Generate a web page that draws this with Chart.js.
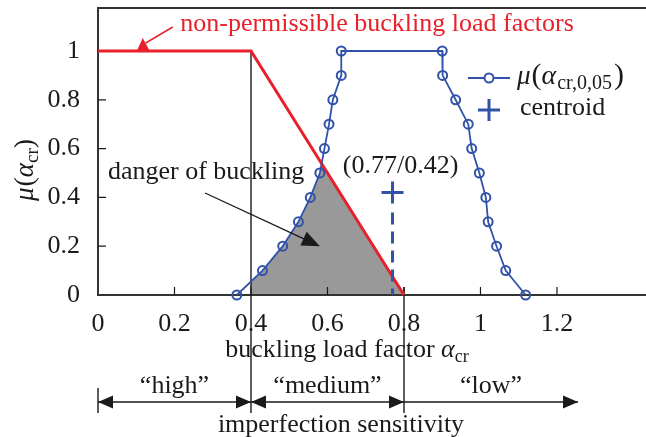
<!DOCTYPE html>
<html>
<head>
<meta charset="utf-8">
<script src="https://cdn.jsdelivr.net/npm/chart.js@4.4.1/dist/chart.umd.min.js"></script>
<style>
  html, body { margin: 0; padding: 0; background: #fff; }
  #wrap { width: 646px; height: 437px; }
</style>
</head>
<body>
<div id="wrap"><canvas id="myChart" width="646" height="437"></canvas></div>
<script>
// membership levels of the fuzzy buckling load factor
const muLevels = [0, 0.1, 0.2, 0.3, 0.4, 0.5, 0.6, 0.7, 0.8, 0.9, 1];
// left and right branch of alpha_cr for each level above
const alphaRising = [0.363, 0.43, 0.483, 0.524, 0.555, 0.58, 0.592, 0.604, 0.614, 0.636, 0.636];
const alphaFalling = [1.118, 1.066, 1.042, 1.02, 1.014, 0.997, 0.977, 0.968, 0.935, 0.901, 0.9];

// non-permissible buckling load factors
const limitAlpha = [0, 0.4, 0.8];
const limitMu = [1, 1, 0];

const centroidAlpha = [0.77];
const centroidMu = [0.42];

const xTicks = [0, 0.2, 0.4, 0.6, 0.8, 1, 1.2];
const yTicks = [0, 0.2, 0.4, 0.6, 0.8, 1];

// imperfection sensitivity bands along alpha_cr
const bandEdges = [0, 0.4, 0.8, 1.255];
const bandLabels = ["\u201chigh\u201d", "\u201cmedium\u201d", "\u201clow\u201d"];

const SERIF = '"Liberation Serif", "Times New Roman", serif';
const BLUE = "#3152a8";
const RED = "#e8202a";
const INK = "#1a1a1a";

const f = (size, style) => (style ? style + " " : "") + size + "px " + SERIF;

const fuzzyPoints = alphaRising
  .map((a, i) => ({ x: a, y: muLevels[i] }))
  .concat(alphaFalling.map((a, i) => ({ x: a, y: muLevels[i] })).reverse());

function arrowHead(ctx, tx, ty, ang, len, half) {
  const c = Math.cos(ang), s = Math.sin(ang);
  ctx.beginPath();
  ctx.moveTo(tx, ty);
  ctx.lineTo(tx - len * c + half * s, ty - len * s - half * c);
  ctx.lineTo(tx - len * c - half * s, ty - len * s + half * c);
  ctx.closePath();
  ctx.fill();
}

// runs of text with their own font and baseline shift (for subscripts)
function drawRich(ctx, parts, x, y, align) {
  let w = 0;
  parts.forEach(p => {
    ctx.font = p.font;
    p.w = ctx.measureText(p.text).width + (p.gap || 0);
    w += p.w;
  });
  let cx = align === "center" ? x - w / 2 : x;
  ctx.textAlign = "left";
  ctx.textBaseline = "alphabetic";
  parts.forEach(p => {
    ctx.font = p.font;
    ctx.fillText(p.text, cx, y + (p.dy || 0));
    cx += p.w;
  });
}

// keep the plot box fixed: no extra room for overhanging tick labels
function noPadding(s) {
  s.paddingTop = 0;
  s.paddingBottom = 0;
  s.paddingLeft = 0;
  s.paddingRight = 0;
}

const decor = {
  id: "decor",
  beforeDatasetsDraw(chart) {
    const { ctx, scales: { x, y } } = chart;
    const area = chart.chartArea;
    const y0 = y.getPixelForValue(0);

    // danger of buckling: under the fuzzy curve and inside the limit triangle
    ctx.save();
    ctx.beginPath();
    ctx.moveTo(x.getPixelForValue(limitAlpha[1]), y0);
    for (let i = 1; i < limitAlpha.length; i++) {
      ctx.lineTo(x.getPixelForValue(limitAlpha[i]), y.getPixelForValue(limitMu[i]));
    }
    ctx.closePath();
    ctx.clip();
    ctx.beginPath();
    ctx.moveTo(x.getPixelForValue(fuzzyPoints[0].x), y0);
    fuzzyPoints.forEach(p => ctx.lineTo(x.getPixelForValue(p.x), y.getPixelForValue(p.y)));
    ctx.closePath();
    ctx.fillStyle = "#999999";
    ctx.fill();
    ctx.restore();

    ctx.save();
    // frame
    ctx.strokeStyle = "#333";
    ctx.lineWidth = 2;
    ctx.beginPath();
    ctx.moveTo(area.right, area.top);
    ctx.lineTo(area.left, area.top);
    ctx.lineTo(area.left, area.bottom);
    ctx.lineTo(area.right, area.bottom);
    ctx.stroke();

    // inner tick marks
    ctx.strokeStyle = INK;
    ctx.lineWidth = 1.2;
    ctx.beginPath();
    xTicks.slice(1).forEach(v => {
      const px = x.getPixelForValue(v);
      ctx.moveTo(px, y0);
      ctx.lineTo(px, y0 - 8);
    });
    yTicks.slice(1).forEach(v => {
      const py = y.getPixelForValue(v);
      ctx.moveTo(area.left, py);
      ctx.lineTo(area.left + 8, py);
    });
    ctx.stroke();

    // band borders running down to the sensitivity arrows
    const lowEnd = y0 + 118;
    ctx.lineWidth = 1.4;
    ctx.beginPath();
    ctx.moveTo(x.getPixelForValue(bandEdges[1]), y.getPixelForValue(1));
    ctx.lineTo(x.getPixelForValue(bandEdges[1]), lowEnd);
    ctx.moveTo(x.getPixelForValue(bandEdges[2]), y0 - 8);
    ctx.lineTo(x.getPixelForValue(bandEdges[2]), lowEnd);
    ctx.moveTo(x.getPixelForValue(bandEdges[0]), y0 + 93);
    ctx.lineTo(x.getPixelForValue(bandEdges[0]), lowEnd);
    ctx.stroke();
    ctx.restore();
  },
  afterDatasetsDraw(chart) {
    const { ctx, scales: { x, y } } = chart;
    const y0 = y.getPixelForValue(0);
    ctx.save();

    // centroid drop line and label
    const cx = x.getPixelForValue(centroidAlpha[0]);
    const cy = y.getPixelForValue(centroidMu[0]);
    ctx.strokeStyle = BLUE;
    ctx.lineWidth = 3;
    ctx.setLineDash([12, 7]);
    ctx.beginPath();
    ctx.moveTo(cx, cy + 20);
    ctx.lineTo(cx, y0);
    ctx.stroke();
    ctx.setLineDash([]);
    ctx.fillStyle = INK;
    ctx.font = f(26);
    ctx.textAlign = "center";
    ctx.textBaseline = "alphabetic";
    ctx.fillText("(" + centroidAlpha[0] + "/" + centroidMu[0] + ")", cx + 8, cy - 20);

    // red note with its leader
    const rx = x.getPixelForValue(0.117);
    const ry = y.getPixelForValue(1);
    ctx.fillStyle = RED;
    ctx.strokeStyle = RED;
    ctx.beginPath();
    ctx.moveTo(rx - 6, ry);
    ctx.lineTo(rx + 7, ry);
    ctx.lineTo(rx, ry - 13);
    ctx.closePath();
    ctx.fill();
    ctx.lineWidth = 1.5;
    ctx.beginPath();
    ctx.moveTo(rx + 3, ry - 8);
    ctx.lineTo(rx + 30, ry - 24);
    ctx.stroke();
    ctx.font = f(26);
    ctx.textAlign = "left";
    ctx.fillText("non-permissible buckling load factors", x.getPixelForValue(0.215), y.getPixelForValue(1.082));

    // danger of buckling note
    ctx.fillStyle = INK;
    ctx.strokeStyle = INK;
    ctx.font = f(26);
    ctx.fillText("danger of buckling", x.getPixelForValue(0.026), y.getPixelForValue(0.475));
    const ax0 = x.getPixelForValue(0.28), ay0 = y.getPixelForValue(0.418);
    const ax1 = x.getPixelForValue(0.58), ay1 = y.getPixelForValue(0.2);
    const ang = Math.atan2(ay1 - ay0, ax1 - ax0);
    ctx.lineWidth = 1.3;
    ctx.beginPath();
    ctx.moveTo(ax0, ay0);
    ctx.lineTo(ax1 - 14 * Math.cos(ang), ay1 - 14 * Math.sin(ang));
    ctx.stroke();
    arrowHead(ctx, ax1, ay1, ang, 18, 7.5);

    // axis titles
    drawRich(ctx, [
      { text: "buckling load factor ", font: f(26) },
      { text: "\u03b1", font: f(26, "italic") },
      { text: "cr", font: f(18), dy: 5 }
    ], 347, y0 + 62, "center");

    ctx.save();
    ctx.translate(33, 170);
    ctx.rotate(-Math.PI / 2);
    drawRich(ctx, [
      { text: "\u03bc", font: f(27, "italic"), gap: 1 },
      { text: "(", font: f(28) },
      { text: "\u03b1", font: f(27, "italic") },
      { text: "cr", font: f(19), dy: 5 },
      { text: ")", font: f(28) }
    ], 0, 0, "center");
    ctx.restore();

    // imperfection sensitivity bands
    const ly = y0 + 107;
    ctx.lineWidth = 1.5;
    for (let i = 0; i < bandLabels.length; i++) {
      const a = x.getPixelForValue(bandEdges[i]);
      const b = x.getPixelForValue(bandEdges[i + 1]);
      ctx.beginPath();
      ctx.moveTo(a, ly);
      ctx.lineTo(b, ly);
      ctx.stroke();
      arrowHead(ctx, b, ly, 0, 15, 6.5);
      if (i < 2) arrowHead(ctx, a, ly, Math.PI, 15, 6.5);
      ctx.font = f(26);
      ctx.textAlign = "center";
      ctx.fillText(bandLabels[i], (a + b) / 2, y0 + 98);
    }
    ctx.fillText("imperfection sensitivity", 341, y0 + 137);

    // legend
    const lx = 468, l1 = 78, l2 = 110;
    ctx.strokeStyle = BLUE;
    ctx.lineWidth = 1.8;
    ctx.beginPath();
    ctx.moveTo(lx, l1);
    ctx.lineTo(lx + 42, l1);
    ctx.stroke();
    ctx.fillStyle = "#fff";
    ctx.lineWidth = 2;
    ctx.beginPath();
    ctx.arc(lx + 21, l1, 4.5, 0, Math.PI * 2);
    ctx.fill();
    ctx.stroke();
    ctx.lineWidth = 3;
    ctx.beginPath();
    ctx.moveTo(lx + 10, l2);
    ctx.lineTo(lx + 32, l2);
    ctx.moveTo(lx + 21, l2 - 11);
    ctx.lineTo(lx + 21, l2 + 11);
    ctx.stroke();
    ctx.fillStyle = INK;
    drawRich(ctx, [
      { text: "\u03bc", font: f(27, "italic"), gap: 1 },
      { text: "(", font: f(30) },
      { text: "\u03b1", font: f(28, "italic"), gap: 1 },
      { text: "cr,0,05", font: f(20), dy: 5, gap: 2 },
      { text: ")", font: f(30) }
    ], 517, l1 + 6, "left");
    ctx.font = f(26);
    ctx.textAlign = "left";
    ctx.fillText("centroid", 520, l2 + 5);

    ctx.restore();
  }
};

const config = {
  type: "line",
  data: {
    datasets: [
      {
        label: "centroid",
        data: centroidAlpha.map((a, i) => ({ x: a, y: centroidMu[i] })),
        showLine: false,
        pointStyle: "cross",
        pointRadius: 11,
        pointBorderWidth: 3,
        borderColor: BLUE,
        backgroundColor: BLUE,
        order: 0,
        clip: false
      },
      {
        label: "\u03bc(\u03b1cr,0,05)",
        data: fuzzyPoints,
        borderColor: BLUE,
        borderWidth: 1.8,
        pointRadius: 4.5,
        pointBorderWidth: 2,
        pointBackgroundColor: "rgba(0,0,0,0)",
        pointBorderColor: BLUE,
        tension: 0,
        order: 1,
        clip: false
      },
      {
        label: "non-permissible buckling load factors",
        data: limitAlpha.map((a, i) => ({ x: a, y: limitMu[i] })),
        borderColor: RED,
        borderWidth: 3,
        pointRadius: 0,
        tension: 0,
        order: 2,
        clip: false
      }
    ]
  },
  options: {
    responsive: false,
    animation: false,
    devicePixelRatio: 1,
    layout: { autoPadding: false, padding: { top: 8, right: 0, left: 0, bottom: 0 } },
    plugins: { legend: { display: false }, tooltip: { enabled: false } },
    scales: {
      x: {
        type: "linear",
        min: 0,
        max: 1.4327,
        afterBuildTicks: s => { s.ticks = xTicks.map(v => ({ value: v })); },
        afterFit: s => { s.height = 142; noPadding(s); },
        grid: { display: false, drawTicks: false },
        border: { display: false },
        ticks: {
          autoSkip: false,
          maxRotation: 0,
          padding: 14,
          color: INK,
          font: { family: SERIF, size: 26 },
          callback: v => String(v)
        }
      },
      y: {
        type: "linear",
        min: 0,
        max: 1.1762,
        afterBuildTicks: s => { s.ticks = yTicks.map(v => ({ value: v })); },
        afterFit: s => { s.width = 98; noPadding(s); },
        grid: { display: false, drawTicks: false },
        border: { display: false },
        ticks: {
          padding: 18,
          color: INK,
          font: { family: SERIF, size: 26 },
          callback: v => String(v)
        }
      }
    }
  },
  plugins: [decor]
};

const myChart = new Chart(document.getElementById("myChart"), config);
</script>
</body>
</html>
